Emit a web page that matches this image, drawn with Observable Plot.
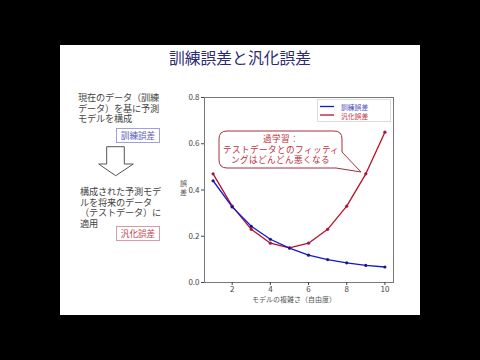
<!DOCTYPE html>
<html><head><meta charset="utf-8">
<script src="https://cdn.jsdelivr.net/npm/d3@7"></script>
<script src="https://cdn.jsdelivr.net/npm/@observablehq/plot@0.6"></script>
<style>
@font-face{font-family:"JPTight";src:local("Noto Sans CJK JP"),local("Noto Sans CJK JP Regular"),local("NotoSansCJKjp-Regular");ascent-override:88%;descent-override:14%;line-gap-override:0%;}
html,body{margin:0;padding:0;background:#000;width:480px;height:360px;overflow:hidden;font-family:"Noto Sans CJK JP","Noto Sans",sans-serif;}
#slide{position:absolute;left:60px;top:45px;width:360px;height:270px;background:#fff;}
.abs{position:absolute;white-space:nowrap;}
#title{left:60px;width:360px;top:48px;text-align:center;font-size:15.8px;line-height:20px;color:#2a2a72;}
.para div{position:absolute;left:0;white-space:nowrap;font-family:"JPTight","Noto Sans CJK JP",sans-serif;font-size:9.2px;line-height:10px;color:#444;}
.tag{font-size:8.6px;line-height:12px;text-align:center;width:42px;height:13px;border:1px solid;}
#chart{position:absolute;left:160px;top:80px;}
#legend{left:317px;top:99px;width:72px;height:21px;border:1px solid #ddd;background:#fff;font-size:6.8px;}
#legend div{position:absolute;white-space:nowrap;line-height:8px;}
</style></head>
<body>
<div id="slide"></div>
<div id="title" class="abs">訓練誤差と汎化誤差</div>
<div class="abs para" style="left:78px;top:93px;"><div style="top:0">現在のデータ（訓練</div><div style="top:10.7px">データ）を基に予測</div><div style="top:21.4px">モデルを構成</div></div>
<div class="abs tag" style="left:116px;top:128px;border-color:#a0a0dc;color:#5a5ab4;">訓練誤差</div>
<svg class="abs" style="left:96px;top:145px;" width="40" height="32"><polygon points="10.7,1.7 28.3,1.7 28.3,19 37.3,19 19.7,30.7 2.7,19 10.7,19" fill="#fff" stroke="#555" stroke-width="1"/></svg>
<div class="abs para" style="left:80px;top:187px;"><div style="top:0">構成された予測モデ</div><div style="top:10.7px">ルを将来のデータ</div><div style="top:21.4px">（テストデータ）に</div><div style="top:32.1px">適用</div></div>
<div class="abs tag" style="left:116px;top:226px;border-color:#dc98a8;color:#c04454;">汎化誤差</div>
<script>
const degrees = [1,2,3,4,5,6,7,8,9,10];
const trainErr = [0.44,0.327,0.243,0.187,0.149,0.118,0.099,0.085,0.074,0.067];
const testErr  = [0.47,0.33,0.23,0.17,0.15,0.17,0.23,0.33,0.47,0.65];
const yTicks = [0.0,0.2,0.4,0.6,0.8];
const xTicks = [2,4,6,8,10];
const seriesNames = ["訓練誤差","汎化誤差"];
const xLabel = "モデルの複雑さ（自由度）";
const yLabelChars = ["誤","差"];
const calloutLines = ["過学習：","テストデータとのフィッティ","ングはどんどん悪くなる"];

const train = degrees.map((d,i)=>({x:d,y:trainErr[i]}));
const test = degrees.map((d,i)=>({x:d,y:testErr[i]}));
const blueLine="#1515d8", blueDot="#1a1a7a", redLine="#b8102a", redDot="#a8183a";

const chart = Plot.plot({
  width:250, height:240,
  marginLeft:44, marginRight:17, marginTop:17, marginBottom:38,
  style:{fontFamily:"'Noto Sans CJK JP','DejaVu Sans',sans-serif", background:"transparent"},
  x:{domain:[0.55,10.45]},
  y:{domain:[0,0.8]},
  marks:[
    Plot.frame({stroke:"#777"}),
    Plot.axisY({ticks:yTicks, tickFormat:d3.format(".1f"), tickSize:3, tickPadding:2, fontSize:8, color:"#444", label:null}),
    Plot.axisX({ticks:xTicks, tickSize:3, tickPadding:1, fontSize:8, color:"#444", label:null}),
    Plot.line(test,{x:"x",y:"y",stroke:redLine,strokeWidth:1.3}),
    Plot.line(train,{x:"x",y:"y",stroke:blueLine,strokeWidth:1.3}),
    Plot.dot(test,{x:"x",y:"y",r:1.6,fill:redDot}),
    Plot.dot(train,{x:"x",y:"y",r:1.6,fill:blueDot}),
    Plot.text([xLabel],{frameAnchor:"bottom",dy:19.5,dx:-5,fontSize:7,fill:"#555"}),
    Plot.text([yLabelChars[0]],{frameAnchor:"left",textAnchor:"middle",dx:-21,dy:-6.5,fontSize:7,fill:"#555"}),
    Plot.text([yLabelChars[1]],{frameAnchor:"left",textAnchor:"middle",dx:-21,dy:2.5,fontSize:7,fill:"#555"})
  ]
});
document.body.appendChild(Object.assign(chart,{id:"chart"}));

// legend
const lg = document.createElement("div");
lg.id="legend"; lg.className="abs";
lg.innerHTML = `<svg style="position:absolute;left:0;top:0" width="72" height="21">
<line x1="2" x2="16" y1="6.5" y2="6.5" stroke="${blueLine}" stroke-width="1.3"/>
<line x1="2" x2="16" y1="15" y2="15" stroke="${redLine}" stroke-width="1.3"/></svg>
<div style="left:23px;top:3px;color:#5050b8">${seriesNames[0]}</div>
<div style="left:23px;top:11.5px;color:#c03848">${seriesNames[1]}</div>`;
document.body.appendChild(lg);

// callout
const co = document.createElementNS("http://www.w3.org/2000/svg","svg");
co.setAttribute("width","150"); co.setAttribute("height","50");
co.setAttribute("class","abs"); co.style.left="215px"; co.style.top="128px";
co.innerHTML = `<path d="M12,3 H119 Q127,3 127,11 V24 L146,44 L121,40 Q118,40 115,40 H12 Q4,40 4,32 V11 Q4,3 12,3 Z" fill="#fff" stroke="#a03040" stroke-width="1"/>`;
document.body.appendChild(co);
calloutLines.forEach((t,i)=>{
  const d=document.createElement("div");
  d.className="abs";
  d.style.cssText=`left:219px;width:123px;text-align:center;top:${134+i*10.7}px;font-family:"JPTight","Noto Sans CJK JP",sans-serif;font-size:8.6px;line-height:10px;color:#c03040;`;
  d.textContent=t;
  document.body.appendChild(d);
});
</script>
</body></html>
